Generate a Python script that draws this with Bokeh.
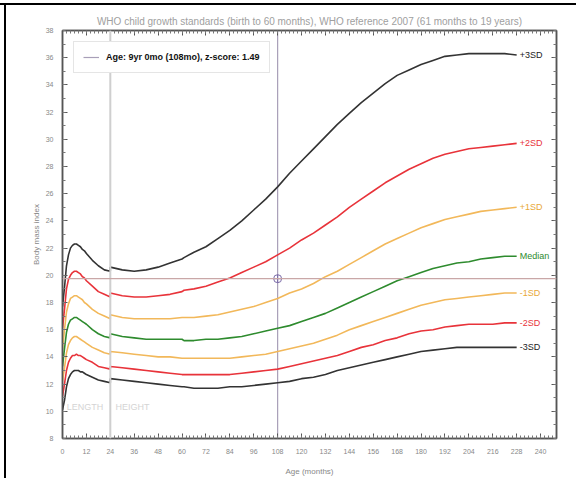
from bokeh.plotting import figure
from bokeh.models import (Range1d, LinearAxis, FixedTicker, Span, Label, Legend,
                          LegendItem, ColumnDataSource, Div, Row, Column)
from bokeh.embed import file_html
from bokeh.resources import INLINE

TITLE = "WHO child growth standards (birth to 60 months), WHO reference 2007 (61 months to 19 years)"
X_LABEL = "Age (months)"
Y_LABEL = "Body mass index"
X_MIN, X_MAX = 0, 248
Y_MIN, Y_MAX = 8, 38

# ages (months): 0-24 length based, 24-60 height based, 61-228 reference 2007
ages = [0, 1, 2, 3, 4, 5, 6, 7, 8, 9, 10, 11, 12, 15, 18, 21, 24,
        24, 30, 36, 42, 48, 54, 60,
        61, 66, 72, 78, 84, 90, 96, 102, 108, 114, 120, 126, 132, 138, 144,
        150, 156, 162, 168, 174, 180, 186, 192, 198, 204, 210, 216, 222, 228]

sd3 = [17.7, 19.1, 20.7, 21.5, 22.0, 22.2, 22.3, 22.3, 22.2, 22.1, 21.9, 21.8, 21.6, 21.1, 20.7, 20.4, 20.3,
       20.6, 20.4, 20.3, 20.4, 20.6, 20.9, 21.2,
       21.3, 21.7, 22.1, 22.7, 23.3, 24.0, 24.8, 25.6, 26.5, 27.5, 28.4, 29.3, 30.2, 31.1, 31.9,
       32.7, 33.4, 34.1, 34.7, 35.1, 35.5, 35.8, 36.1, 36.2, 36.3, 36.3, 36.3, 36.3, 36.2]
sd2 = [16.1, 17.5, 19.0, 19.7, 20.0, 20.2, 20.3, 20.3, 20.2, 20.1, 19.9, 19.8, 19.6, 19.2, 18.8, 18.6, 18.4,
       18.7, 18.5, 18.4, 18.4, 18.5, 18.6, 18.8,
       18.9, 19.0, 19.2, 19.5, 19.8, 20.2, 20.6, 21.0, 21.5, 22.0, 22.6, 23.1, 23.7, 24.3, 25.0,
       25.6, 26.2, 26.8, 27.3, 27.8, 28.2, 28.6, 28.9, 29.1, 29.3, 29.4, 29.5, 29.6, 29.7]
sd1 = [14.6, 16.0, 17.3, 17.9, 18.3, 18.4, 18.5, 18.5, 18.4, 18.3, 18.2, 18.0, 17.9, 17.5, 17.2, 17.0, 16.8,
       17.1, 16.9, 16.8, 16.8, 16.8, 16.8, 16.9,
       16.9, 16.9, 17.0, 17.1, 17.3, 17.5, 17.7, 18.0, 18.3, 18.7, 19.0, 19.4, 19.9, 20.3, 20.8,
       21.3, 21.8, 22.3, 22.7, 23.1, 23.5, 23.8, 24.1, 24.3, 24.5, 24.7, 24.8, 24.9, 25.0]
median = [13.3, 14.6, 15.8, 16.4, 16.7, 16.8, 16.9, 16.9, 16.8, 16.7, 16.6, 16.5, 16.4, 16.0, 15.7, 15.5, 15.4,
          15.7, 15.5, 15.4, 15.3, 15.3, 15.3, 15.3,
          15.2, 15.2, 15.3, 15.3, 15.4, 15.5, 15.7, 15.9, 16.1, 16.3, 16.6, 16.9, 17.2, 17.6, 18.0,
          18.4, 18.8, 19.2, 19.6, 19.9, 20.2, 20.5, 20.7, 20.9, 21.0, 21.2, 21.3, 21.4, 21.4]
sdm1 = [12.2, 13.2, 14.3, 14.9, 15.2, 15.4, 15.5, 15.5, 15.4, 15.3, 15.2, 15.1, 15.0, 14.7, 14.5, 14.3, 14.2,
        14.4, 14.3, 14.2, 14.1, 14.0, 14.0, 13.9,
        13.9, 13.9, 13.9, 13.9, 13.9, 14.0, 14.1, 14.2, 14.4, 14.6, 14.8, 15.0, 15.3, 15.6, 16.0,
        16.3, 16.6, 16.9, 17.2, 17.5, 17.8, 18.0, 18.2, 18.3, 18.4, 18.5, 18.6, 18.7, 18.7]
sdm2 = [11.1, 12.0, 13.0, 13.6, 13.9, 14.1, 14.1, 14.2, 14.1, 14.1, 14.0, 13.9, 13.8, 13.6, 13.3, 13.2, 13.1,
        13.3, 13.2, 13.1, 13.0, 12.9, 12.8, 12.7,
        12.7, 12.7, 12.7, 12.7, 12.7, 12.8, 12.9, 13.0, 13.1, 13.3, 13.5, 13.7, 13.9, 14.1, 14.4,
        14.7, 14.9, 15.2, 15.4, 15.7, 15.9, 16.0, 16.2, 16.3, 16.4, 16.4, 16.4, 16.5, 16.5]
sdm3 = [10.1, 10.8, 11.8, 12.4, 12.7, 12.9, 13.0, 13.0, 13.0, 12.9, 12.9, 12.8, 12.7, 12.5, 12.3, 12.2, 12.1,
        12.4, 12.3, 12.2, 12.1, 12.0, 11.9, 11.8,
        11.8, 11.7, 11.7, 11.7, 11.8, 11.8, 11.9, 12.0, 12.1, 12.2, 12.4, 12.5, 12.7, 13.0, 13.2,
        13.4, 13.6, 13.8, 14.0, 14.2, 14.4, 14.5, 14.6, 14.7, 14.7, 14.7, 14.7, 14.7, 14.7]

curve_names = ["+3SD", "+2SD", "+1SD", "Median", "-1SD", "-2SD", "-3SD"]
curve_values = [sd3, sd2, sd1, median, sdm1, sdm2, sdm3]
curve_colors = ["#333333", "#e8333a", "#f2b85a", "#2e8b2e", "#f2b85a", "#e8333a", "#333333"]
label_colors = ["#222222", "#e8333a", "#e8a838", "#2e8b2e", "#e8a838", "#e8333a", "#222222"]

x_ticks = list(range(0, 241, 12))
x_minor = list(range(0, 249, 2))
y_ticks = list(range(8, 39, 2))
y_minor = list(range(8, 39, 1))

child_age = 108
child_bmi = 19.75
legend_text = "Age: 9yr 0mo (108mo), z-score: 1.49"
switch_age = 24

FONT = "Liberation Sans"
PAGE_W, PAGE_H = 576, 478
OFF_X, OFF_Y = 6, 5          # space taken by the page border lines
W, H = PAGE_W - OFF_X, PAGE_H - OFF_Y

p = figure(width=W, height=H, output_backend="svg", toolbar_location=None,
           x_range=Range1d(X_MIN, X_MAX), y_range=Range1d(Y_MIN, Y_MAX),
           min_border_left=62 - OFF_X, min_border_right=W - (556 - OFF_X),
           min_border_top=30 - OFF_Y, min_border_bottom=H - (440 - OFF_Y),
           title=TITLE, margin=(0, 0, 0, 0))
p.title.align = "center"
p.title.text_font = FONT
p.title.text_font_size = "10px"
p.title.text_font_style = "normal"
p.title.text_color = "#a0a0a0"
p.title.offset = 0
p.title.standoff = 7
p.grid.visible = False
p.outline_line_color = "#555555"
p.outline_line_width = 1.5
p.background_fill_color = "white"
p.border_fill_color = "white"

xt = FixedTicker(ticks=x_ticks, minor_ticks=x_minor)
yt = FixedTicker(ticks=y_ticks, minor_ticks=y_minor)

bottom_ax = p.below[0]
left_ax = p.left[0]
bottom_ax.ticker = xt
left_ax.ticker = yt

top_ax = LinearAxis(ticker=xt, major_label_overrides={t: "" for t in x_ticks})
right_ax = LinearAxis(ticker=yt, major_label_overrides={t: "" for t in y_ticks})
p.add_layout(top_ax, "above")
p.add_layout(right_ax, "right")

for ax in [bottom_ax, left_ax, top_ax, right_ax]:
    ax.major_tick_in = 5
    ax.major_tick_out = 0
    ax.minor_tick_in = 3
    ax.minor_tick_out = 0
    ax.axis_line_color = "#555555"
    ax.axis_line_width = 1.5
    ax.major_tick_line_color = "#555555"
    ax.minor_tick_line_color = "#777777"
    ax.major_label_text_font = FONT
    ax.major_label_text_color = "#888888"
    ax.major_label_text_font_size = "7px"
    ax.major_label_standoff = 0
    ax.axis_label_text_font = FONT
    ax.axis_label_text_color = "#888888"
    ax.axis_label_text_font_style = "normal"

bottom_ax.axis_label = X_LABEL
left_ax.axis_label = Y_LABEL
bottom_ax.axis_label_text_font_size = "8px"
left_ax.axis_label_text_font_size = "8px"
bottom_ax.major_label_standoff = 10
left_ax.major_label_standoff = 9
bottom_ax.axis_label_standoff = 10
left_ax.axis_label_standoff = 2

# length / height switch
p.add_layout(Span(location=switch_age, dimension="height", line_color="#cfcfcf", line_width=2))
p.add_layout(Label(x=switch_age - 3.5, y=Y_MIN + 2.3, text="LENGTH", text_align="right",
                   text_baseline="middle", text_font=FONT, text_font_size="9px",
                   text_color="#d4d4d4"))
p.add_layout(Label(x=switch_age + 2.6, y=Y_MIN + 2.3, text="HEIGHT", text_align="left",
                   text_baseline="middle", text_font=FONT, text_font_size="9px",
                   text_color="#d4d4d4"))

# child's marker lines
p.add_layout(Span(location=child_bmi, dimension="width", line_color="#c9a7a7", line_width=1.2))
vline = p.line([child_age, child_age], [Y_MIN, Y_MAX], line_color="#a89fb8", line_width=1.2)

for name, vals, col, lcol in zip(curve_names, curve_values, curve_colors, label_colors):
    src = ColumnDataSource(dict(x=ages, y=vals))
    p.line("x", "y", source=src, line_color=col, line_width=1.6)
    p.add_layout(Label(x=ages[-1] + 1.5, y=vals[-1], text=name, text_align="left",
                       text_baseline="middle", text_font=FONT, text_font_size="9px",
                       text_color=lcol))

p.scatter([child_age], [child_bmi], marker="circle_cross", size=8, line_color="#7a6aa8",
          fill_color=None, line_width=1)

legend = Legend(items=[LegendItem(label=legend_text, renderers=[vline])],
                location=(11, 365), orientation="vertical",
                label_text_font=FONT, label_text_font_size="9px", label_text_font_style="bold",
                label_text_color="#111111", glyph_width=16, glyph_height=12, label_standoff=7,
                padding=9, border_line_color="#cccccc", border_line_width=1,
                background_fill_color="white", background_fill_alpha=1.0)
p.add_layout(legend)

# black page border lines (top and left), as in the reference screenshot
line_css = {"background-color": "#000000", "overflow": "hidden",
            "font-size": "0px", "line-height": "0px", "padding": "0px"}
top_line = Div(text="", width=PAGE_W, height=2, margin=(3, 0, 0, 0), styles=line_css)
left_line = Div(text="", width=2, height=H, margin=(0, 0, 0, 4), styles=line_css)
layout = Column(children=[top_line, Row(children=[left_line, p], spacing=0, margin=(0, 0, 0, 0))],
                spacing=0, margin=(0, 0, 0, 0), styles={"overflow": "hidden"})

open("out.html", "w").write(file_html(layout, INLINE))
